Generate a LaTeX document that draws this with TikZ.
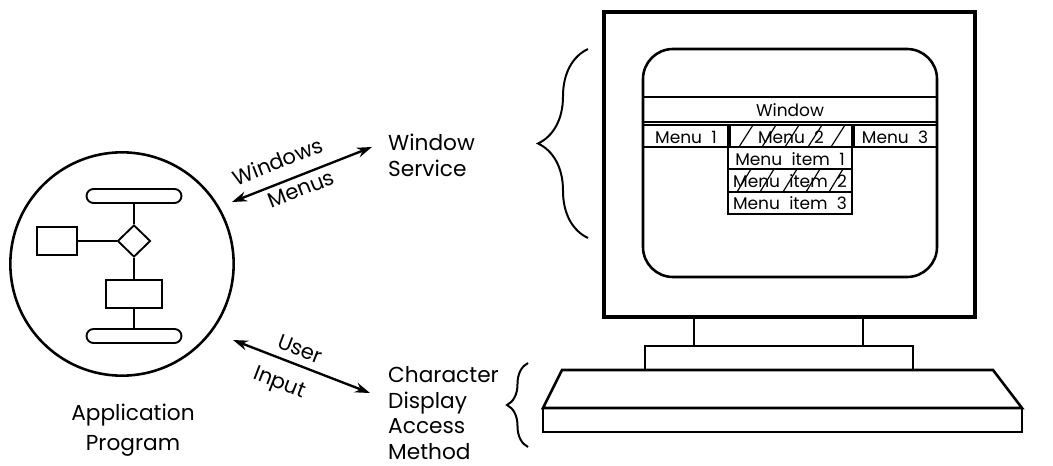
\documentclass[tikz,border=0pt]{standalone}
\usepackage{fontspec}
\setmainfont{Poppins}
\usetikzlibrary{arrows.meta}
\usetikzlibrary{shapes.geometric}
\usetikzlibrary{decorations.pathreplacing}

\tikzset{
  label text/.style={font=\fontsize{18.5pt}{22pt}\selectfont, align=left, anchor=west, inner sep=0},
  arrow text/.style={font=\fontsize{18pt}{20pt}\selectfont, sloped, inner sep=#1},
  screen text/.style={font={\fontsize{14.5pt}{16pt}\selectfont\spaceskip=0.55em\relax}, inner sep=0},
  flow box/.style={draw, line width=1.6pt, rectangle, inner sep=0},
  pill/.style={flow box, rounded corners=2.1mm, minimum width=28.5mm, minimum height=4.2mm},
  link/.style={line width=1.6pt},
  dbl arrow/.style={line width=2pt, {Stealth[length=4.5mm,width=3mm]}-{Stealth[length=4.5mm,width=3mm]}},
  menu box/.style={draw, line width=1.2pt},
  hatch/.style={line width=1pt},
  brace line/.style={decorate, decoration={brace, amplitude=#1}, line width=1.7pt},
}

\begin{document}
\begin{tikzpicture}[x=0.3mm,y=-0.3mm]
\useasboundingbox (0,0) rectangle (1053,466);

% program with its little flowchart
\node[circle, draw, line width=2.2pt, minimum size=67mm, inner sep=0] (prog) at (122,264) {};
\node[pill] (start) at (134,196) {};
\node[diamond, draw, line width=1.6pt, minimum width=9.9mm, minimum height=9.6mm, inner sep=0] (test) at (134,241) {};
\node[flow box, minimum width=12mm, minimum height=8.4mm] (side) at (57,241) {};
\node[flow box, minimum width=16.8mm, minimum height=8.4mm] (work) at (134,294) {};
\node[pill] (stop) at (134,336) {};
\draw[link] (start) -- (test);
\draw[link] (test) -- (side);
\draw[link] (test) -- (work);
\draw[link] (work) -- (stop);
\node[label text, anchor=center, align=center, font=\fontsize{18.5pt}{25.5pt}\selectfont] (prog name) at (133,430) {Application\\Program};

% services
\node[label text] (window service) at (388,155) {Window\\Service};
\node[label text] (cdam) at (388,413) {Character\\Display\\Access\\Method};

\coordinate (wm a) at (232,202);
\coordinate (wm b) at (372,147);
\draw[dbl arrow] (wm a) -- (wm b)
  node[arrow text=10pt, pos=0.38, above] (wm top) {Windows}
  node[arrow text=4pt, pos=0.46, below] (wm bot) {Menus};
\coordinate (ui a) at (233,340);
\coordinate (ui b) at (370,393);
\draw[dbl arrow] (ui a) -- (ui b)
  node[arrow text=6pt, pos=0.45, above] (ui top) {User}
  node[arrow text=11pt, pos=0.4, below] (ui bot) {Input};

\draw[brace line=15mm] (588,238) -- (588,49);
\draw[brace line=6.3mm] (528,447) -- (528,363);

% terminal
\draw[line width=2.6pt] (604,12) rectangle (975,317);
\draw[line width=2.2pt, rounded corners=9mm] (643,49) rectangle (937,277);
\draw[menu box] (643,97) rectangle (937,122);
\draw[line width=2pt] (643,97) -- (937,97);
\node[screen text] (win) at (790,110) {Window};

\begin{scope}
\clip (730,125) rectangle (852,147);
\foreach \i in {0,...,6} \draw[hatch] (716+\i*23,147) -- ++(14,-22);
\end{scope}
\begin{scope}
\clip (728,169) rectangle (852,192);
\foreach \i in {0,...,6} \draw[hatch] (714+\i*23,192) -- ++(14,-23);
\end{scope}
\draw[menu box] (643,125) rectangle (728,147);
\draw[menu box] (730,125) rectangle (852,147);
\draw[menu box] (854,125) rectangle (937,147);
\draw[line width=2pt] (643,147) -- (937,147);
\node[screen text] (m1) at (686,137) {Menu 1};
\node[screen text] (m2) at (791,137) {Menu 2};
\node[screen text] (m3) at (895,137) {Menu 3};

\draw[menu box] (728,147) rectangle (852,214);
\draw[menu box] (728,169) -- (852,169);
\draw[menu box] (728,192) -- (852,192);
\draw[line width=2pt] (728,214) -- (852,214);
\node[screen text] (i1) at (790,159) {Menu item 1};
\node[screen text] (i2) at (790,181) {Menu item 2};
\node[screen text] (i3) at (790,203) {Menu item 3};

% stand and keyboard
\draw[line width=2.2pt] (694,317) rectangle (863,346);
\draw[line width=2.2pt] (645,346) rectangle (913,370);
\draw[line width=2.2pt] (562,370) -- (993,370) -- (1022,408) -- (543,408) -- cycle;
\draw[line width=2.2pt] (543,408) rectangle (1022,432);

\end{tikzpicture}
\end{document}
